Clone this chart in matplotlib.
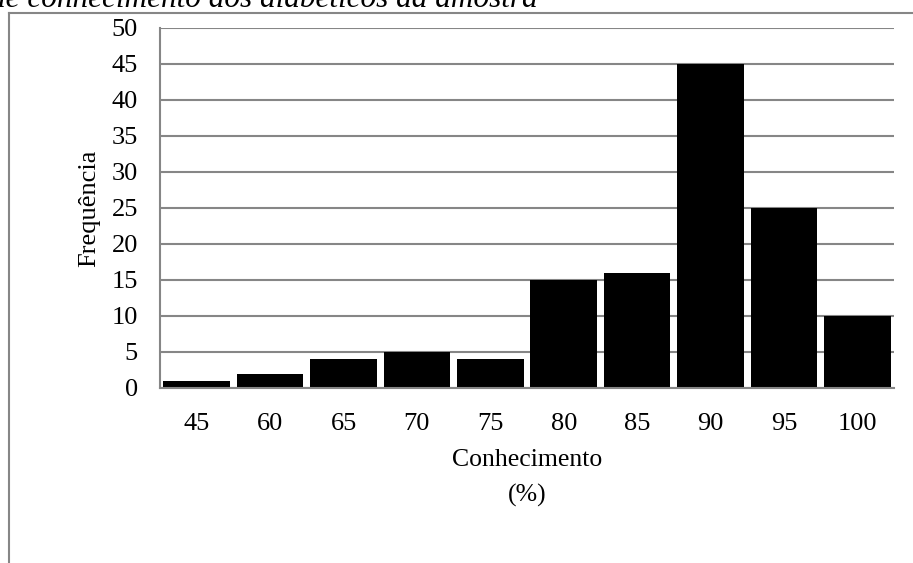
import matplotlib
matplotlib.use("Agg")
import matplotlib.pyplot as plt
from matplotlib.lines import Line2D

plt.rcParams['font.family'] = ['Liberation Serif', 'DejaVu Serif']

categories = ['45', '60', '65', '70', '75', '80', '85', '90', '95', '100']
frequencies = [1, 2, 4, 5, 4, 15, 16, 45, 25, 10]
y_ticks = [0, 5, 10, 15, 20, 25, 30, 35, 40, 45, 50]

W, H = 913, 563
fig = plt.figure(figsize=(W / 100, H / 100), dpi=100)

def fx(px):
    return px / W

def fy(py):
    return 1 - py / H

ax = fig.add_axes([fx(160), fy(388), fx(894) - fx(160), fy(28) - fy(388)])

grey = '#868686'
x = list(range(len(categories)))
ax.bar(x, frequencies, width=0.91, color='black', zorder=3)
ax.set_xlim(-0.5, len(categories) - 0.5)
ax.set_ylim(0, 50)
ax.set_yticks(y_ticks)
ax.set_xticks(x)
ax.set_xticklabels(categories)
ax.tick_params(axis='both', length=0, labelsize=19, colors='black')
ax.tick_params(axis='x', pad=18)
ax.tick_params(axis='y', pad=16)
ax.yaxis.grid(True, color=grey, linewidth=1.5, zorder=0)
ax.set_axisbelow(True)
for side in ('top', 'right'):
    ax.spines[side].set_visible(False)
for side in ('left', 'bottom'):
    ax.spines[side].set_color(grey)
    ax.spines[side].set_linewidth(1.5)
    ax.spines[side].set_zorder(4)

ax.set_ylabel('Frequência', fontsize=19, labelpad=8)
ax.set_xlabel('Conhecimento\n(%)', fontsize=18.5, labelpad=10, linespacing=1.75)

# outer chart frame
fig.add_artist(Line2D([fx(8.5), fx(8.5)], [fy(13), fy(H + 5)], color=grey, linewidth=1.5))
fig.add_artist(Line2D([fx(8.5), fx(W + 5)], [fy(13), fy(13)], color=grey, linewidth=1.5))

# caption above the chart
fig.text(fx(-10), fy(7), 'de conhecimento dos diabéticos da amostra', fontsize=22.5,
         style='italic', ha='left', va='baseline')

fig.savefig('out.png', dpi=100)
